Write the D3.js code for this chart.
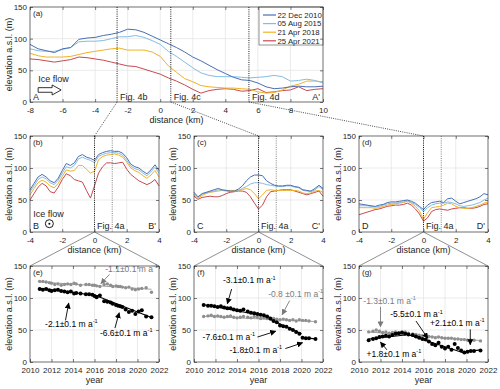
<!DOCTYPE html>
<html>
<head>
<meta charset="utf-8">
<script src="https://cdn.jsdelivr.net/npm/d3@7"></script>
<style>
  body { margin: 0; background: #ffffff; }
  svg text { font-family: "Liberation Sans", Arial, Helvetica, sans-serif; }
</style>
</head>
<body>
<div id="figure"></div>
<script>
/******************************************************
 ******************************************************
 ******************************************************
******************************************************/
const PROFILE_DATES = ["22 Dec 2010", "05 Aug 2015", "21 Apr 2018", "25 Apr 2021"];

//! Along-flow profile A-A' (km, m)
const DIST_A = [-8, -7.5, -7, -6.5, -6, -5.5, -5, -4.5, -4, -3.5, -3, -2.5, -2, -1.5, -1, -0.5, 0,
    0.5, 1, 1.5, 2, 2.5, 3, 3.5, 4, 4.5, 5, 5.5, 6, 6.5, 7, 7.5, 8, 8.5, 9, 9.5, 10];
const A_2010 = [91, 84, 81, 78, 84, 86, 99, 101, 102, 105, 107, 110, 115, 114, 110, 104, 98,
    92, 86, 79, 71, 65, 58, 51, 45, 39, 35, 34, 30, 24, 21, 22, 24, 25, 24, 24, 25];
const A_2015 = [84, 81, 80, 80, 83, 86, 95, 96, 96, 97, 100, 103, 103, 105, 102, 97, 91,
    80, 72, 63, 54, 46, 42, 40, 40, 40, 39, 38, 39, 40, 42, 40, 33, 34, 36, 34, 30];
const A_2018 = [77, 73, 71, 71, 71, 72, 75, 78, 80, 82, 84, 85, 82, 82, 82, 79, 72,
    57, 47, 37, 32, 26, 24, 23, 22, 22, 21, 20, 16, 14, 15, 19, 25, 28, 33, 33, 32];
const A_2021 = [68, 67, 65, 63, 65, 67, 71, 70, 68, 66, 63, 60, 57, 56, 52, 48, 44,
    38, 33, 27, 20, 14, 18, 20, 21, 20, 17, 18, 21, 15, 16, 18, 19, 24, 18, 20, 21];

//! Across-flow profiles B-B', C-C', D-D' (km, m)
const DIST_X = [-4, -3.75, -3.5, -3.25, -3, -2.75, -2.5, -2.25, -2, -1.75, -1.5, -1.25, -1, -0.75, -0.5, -0.25, 0,
    0.25, 0.5, 0.75, 1, 1.25, 1.5, 1.75, 2, 2.25, 2.5, 2.75, 3, 3.25, 3.5, 3.75, 4];
const B_2010 = [66, 76, 86, 90, 86, 80, 77, 84, 96, 107, 104, 108, 118, 121, 117, 115, 112,
    121, 124, 126, 127, 126, 126, 123, 116, 106, 102, 100, 95, 91, 97, 105, 96];
const B_2015 = [63, 72, 82, 86, 83, 77, 74, 81, 92, 102, 100, 104, 114, 117, 114, 112, 108,
    118, 121, 123, 124, 124, 123, 120, 112, 103, 99, 97, 92, 88, 94, 101, 92];
const B_2018 = [58, 68, 77, 81, 78, 72, 69, 76, 87, 97, 95, 96, 104, 104, 98, 92, 95,
    113, 118, 120, 121, 122, 120, 117, 109, 100, 96, 93, 88, 84, 89, 96, 86];
const B_2021 = [50, 60, 70, 76, 72, 63, 61, 70, 82, 91, 88, 82, 80, 78, 65, 53, 72,
    92, 102, 108, 108, 107, 108, 109, 98, 90, 85, 80, 77, 74, 77, 82, 72];

const C_2010 = [62, 55, 60, 62, 64, 66, 68, 66, 65, 64, 64, 67, 72, 80, 86, 89, 89,
    88, 80, 76, 73, 72, 72, 73, 73, 71, 70, 66, 65, 64, 68, 73, 68];
const C_2015 = [60, 54, 59, 61, 63, 64, 66, 65, 64, 63, 63, 65, 68, 71, 75, 77, 77,
    76, 74, 73, 72, 71, 71, 72, 72, 70, 69, 65, 64, 63, 66, 71, 66];
const C_2018 = [58, 53, 57, 60, 62, 63, 64, 65, 65, 65, 65, 65, 66, 68, 66, 60, 52,
    58, 65, 66, 65, 65, 65, 65, 65, 65, 64, 61, 60, 61, 64, 65, 62];
const C_2021 = [56, 51, 54, 55, 56, 55, 55, 57, 60, 62, 63, 64, 64, 62, 55, 45, 36,
    42, 55, 63, 64, 65, 66, 66, 66, 64, 62, 60, 58, 60, 62, 64, 56];

const D_2010 = [44, 43, 42, 41, 40, 42, 43, 46, 47, 47, 48, 49, 50, 48, 45, 40, 35,
    42, 46, 47, 48, 46, 52, 53, 48, 44, 46, 48, 50, 52, 55, 60, 58];
const D_2015 = [41, 41, 41, 40, 39, 40, 42, 44, 45, 45, 46, 47, 49, 46, 43, 38, 32,
    38, 42, 44, 45, 45, 47, 46, 44, 41, 40, 41, 42, 44, 46, 50, 53];
const D_2018 = [38, 38, 38, 38, 37, 38, 40, 42, 43, 44, 45, 46, 48, 45, 40, 33, 20,
    30, 38, 39, 40, 42, 45, 44, 40, 38, 37, 37, 38, 40, 42, 45, 47];
const D_2021 = [27, 29, 31, 33, 35, 36, 38, 40, 41, 42, 42, 43, 45, 42, 36, 28, 17,
    22, 32, 35, 36, 35, 34, 36, 37, 38, 38, 37, 37, 38, 40, 43, 44];

//! Elevation time series (decimal year, m)
const YEARS_E = [2010.9, 2011.2, 2011.5, 2011.8, 2012.0, 2012.3, 2012.6, 2012.9, 2013.2, 2013.5, 2013.8, 2014.1,
    2014.3, 2014.7, 2015.2, 2015.5, 2015.8, 2016.0, 2016.2, 2016.5, 2016.9, 2017.2, 2017.5, 2017.7,
    2018.0, 2018.2, 2018.4, 2018.6, 2018.9, 2019.2, 2019.5, 2019.8, 2020.1, 2020.4, 2020.8, 2021.3];
const E_BLACK = [114, 113, 114, 112, 111, 112, 113, 111, 110, 109, 110, 107, 108, 107, 106, 106, 105, 103,
    101, 104, 95, 94, 93, 91, 89, 88, 87, 86, 82, 78, 80, 75, 79, 81, 71, 70];
const E_GRAY = [126, 126, 125, 124, 123, 121, 122, 120, 121, 122, 121, 123, 122, 120, 121, 121, 120, 120,
    119, 118, 121, 122, 120, 118, 119, 118, 118, 117, 116, 117, 114, 113, 114, 115, 116, 109];

const YEARS_FG = [2010.9, 2011.3, 2011.6, 2011.9, 2012.2, 2012.5, 2012.8, 2013.1, 2013.4, 2013.7, 2014.0, 2014.3,
    2014.6, 2015.0, 2015.3, 2015.6, 2015.9, 2016.2, 2016.5, 2016.8, 2017.1, 2017.4, 2017.7, 2018.0,
    2018.3, 2018.6, 2018.9, 2019.2, 2019.5, 2019.8, 2020.1, 2020.4, 2020.7, 2021.3];
const F_BLACK = [89, 88, 88, 87, 86, 87, 85, 84, 84, 82, 81, 80, 82, 79, 77, 76, 75, 74, 73, 71, 68, 64,
    62, 57, 56, 55, 52, 50, 47, 44, 38, 37, 37, 36];
const F_GRAY = [71, 72, 73, 71, 72, 71, 70, 71, 72, 70, 69, 70, 71, 70, 69, 71, 70, 68, 69, 68, 67, 68,
    67, 66, 67, 66, 65, 66, 64, 66, 65, 65, 64, 63];
const G_BLACK = [34, 36, 37, 39, 40, 41, 40, 42, 44, 45, 46, 44, 43, 42, 40, 38, 36, 35, 32, 28, 26, 30,
    24, 21, 24, 19, 28, 22, 18, 15, 16, 17, 17, 18];
const G_GRAY = [47, 48, 50, 48, 46, 47, 45, 46, 47, 45, 46, 47, 45, 44, 43, 42, 41, 41, 40, 39, 38, 39,
    38, 37, 37, 37, 36, 36, 35, 35, 34, 34, 34, 33];

//! Fitted trends [year0, elev0, year1, elev1]
const E_TREND_BLACK = [[2010.9, 115, 2016.4, 103.5], [2016.4, 102, 2021.3, 69.7]];
const E_TREND_GRAY = [[2010.9, 125, 2021.3, 113.6]];
const F_TREND_BLACK = [[2010.9, 89.5, 2017.0, 70.6], [2017.0, 67, 2020.0, 44.2], [2020.0, 38.5, 2021.3, 36.2]];
const F_TREND_GRAY = [[2010.9, 71.5, 2021.3, 63.2]];
const G_TREND_BLACK = [[2010.9, 36, 2014.3, 42.1], [2014.3, 44, 2019.7, 14.3], [2019.7, 15.5, 2021.3, 18.9]];
const G_TREND_GRAY = [[2010.9, 47, 2021.3, 33.5]];

//! Tick values
const TICKS_DIST_A = [-8, -6, -4, -2, 0, 2, 4, 6, 8, 10];
const TICKS_DIST_X = [-4, -2, 0, 2, 4];
const TICKS_YEAR = [2010, 2012, 2014, 2016, 2018, 2020, 2022];
const TICKS_ELEV = [0, 50, 100, 150];

/******************************************************
 *!               Layout / styles                     *
******************************************************/
const PROFILE_COLORS = ["#4a6fb5", "#82bde3", "#f0b323", "#c8494f"];
const FRAME_COLOR = "#262626";
const GRID_COLOR = "#e3e3e3";
const TEXT_COLOR = "#262626";
const GRAY_POINT = "#8f8f8f";
const GRAY_TEXT = "#7a7a7a";
const TICK_FS = 8;
const LABEL_FS = 9;
const NOTE_FS = 8.5;

const COLUMNS = [{ left: 30, right: 159 }, { left: 194, right: 323 }, { left: 359, right: 488 }];
const ROW_PROFILE = { top: 136, bottom: 232 };
const ROW_SERIES = { top: 266, bottom: 362 };
const BOX_A = { left: 30, right: 323, top: 7, bottom: 102 };

// where the cross sections cut profile A-A'
const CUTS_A = [{ km: -2.65, label: "Fig. 4b" }, { km: 0.65, label: "Fig. 4c" }, { km: 5.45, label: "Fig. 4d" }];
const CUT_4A = 1.1;

/******************************************************
 *!                Helper Functions                   *
******************************************************/
function makePanel(svg, box, xDomain, xTicks) {
    const x = d3.scaleLinear().domain(xDomain).range([box.left, box.right]);
    const y = d3.scaleLinear().domain([0, 150]).range([box.bottom, box.top]);
    const g = svg.append("g");

    g.append("rect")
        .attr("x", box.left).attr("y", box.top)
        .attr("width", box.right - box.left).attr("height", box.bottom - box.top)
        .attr("fill", "#fff");

    // grid
    g.selectAll(".vgrid").data(xTicks).enter().append("line")
        .attr("x1", d => x(d)).attr("x2", d => x(d))
        .attr("y1", box.top).attr("y2", box.bottom)
        .attr("stroke", GRID_COLOR).attr("stroke-width", 0.7);
    g.selectAll(".hgrid").data(TICKS_ELEV).enter().append("line")
        .attr("x1", box.left).attr("x2", box.right)
        .attr("y1", d => y(d)).attr("y2", d => y(d))
        .attr("stroke", GRID_COLOR).attr("stroke-width", 0.7);

    return { x, y, g, box };
}

function styleAxis(sel) {
    sel.select(".domain").remove();
    sel.selectAll("line").attr("stroke", FRAME_COLOR).attr("stroke-width", 0.6);
    sel.selectAll("text").attr("font-size", TICK_FS).attr("fill", TEXT_COLOR)
        .style("font-family", '"Liberation Sans", Arial, sans-serif');
}

function finishPanel(p, xTicks, xLabel, tag) {
    const { x, y, g, box } = p;
    const fmt = d => String(d);

    styleAxis(g.append("g").attr("transform", `translate(0,${box.bottom})`)
        .call(d3.axisBottom(x).tickValues(xTicks).tickSize(-3).tickPadding(5).tickFormat(fmt)));
    styleAxis(g.append("g").attr("transform", `translate(0,${box.top})`)
        .call(d3.axisTop(x).tickValues(xTicks).tickSize(-3).tickFormat("")));
    styleAxis(g.append("g").attr("transform", `translate(${box.left},0)`)
        .call(d3.axisLeft(y).tickValues(TICKS_ELEV).tickSize(-3).tickPadding(3).tickFormat(fmt)));
    styleAxis(g.append("g").attr("transform", `translate(${box.right},0)`)
        .call(d3.axisRight(y).tickValues(TICKS_ELEV).tickSize(-3).tickFormat("")));

    g.append("rect")
        .attr("x", box.left).attr("y", box.top)
        .attr("width", box.right - box.left).attr("height", box.bottom - box.top)
        .attr("fill", "none").attr("stroke", FRAME_COLOR).attr("stroke-width", 0.6);

    g.append("text")
        .attr("x", (box.left + box.right) / 2).attr("y", box.bottom + 21)
        .attr("text-anchor", "middle").attr("font-size", LABEL_FS).attr("fill", TEXT_COLOR)
        .text(xLabel);

    g.append("text")
        .attr("transform", `translate(${box.left - 18},${(box.top + box.bottom) / 2}) rotate(-90)`)
        .attr("text-anchor", "middle").attr("font-size", LABEL_FS).attr("fill", TEXT_COLOR)
        .text("elevation a.s.l. (m)");

    g.append("text")
        .attr("x", box.left + 3).attr("y", box.top + 9)
        .attr("font-size", 8).attr("fill", TEXT_COLOR)
        .text(tag);
}

function drawProfiles(p, dist, series) {
    const line = d3.line().x((d, i) => p.x(dist[i])).y(d => p.y(d));
    series.slice().reverse().forEach((s, j) => {
        const k = series.length - 1 - j;
        p.g.append("path").datum(s)
            .attr("d", line)
            .attr("fill", "none")
            .attr("stroke", PROFILE_COLORS[k])
            .attr("stroke-width", 1);
    });
}

function vDotted(p, xv, color) {
    p.g.append("line")
        .attr("x1", p.x(xv)).attr("x2", p.x(xv))
        .attr("y1", p.box.top).attr("y2", p.box.bottom)
        .attr("stroke", color).attr("stroke-width", 0.9)
        .attr("stroke-dasharray", "1,1.2");
}

function cornerText(p, left, right, yPix) {
    p.g.append("text").attr("x", p.box.left + 3).attr("y", yPix)
        .attr("font-size", LABEL_FS).attr("fill", TEXT_COLOR).text(left);
    p.g.append("text").attr("x", p.box.right - 3).attr("y", yPix)
        .attr("text-anchor", "end").attr("font-size", LABEL_FS).attr("fill", TEXT_COLOR).text(right);
}

function rateText(sel, value) {
    sel.append("tspan").text(value + " m a");
    sel.append("tspan").attr("dy", -3.5).attr("font-size", 5.5).text("-1");
}

function drawSeries(p, years, values, color, radius) {
    p.g.selectAll(null).data(values).enter().append("circle")
        .attr("cx", (d, i) => p.x(years[i]))
        .attr("cy", d => p.y(d))
        .attr("r", radius)
        .attr("fill", color);
}

function drawTrends(p, trends, color) {
    p.g.selectAll(null).data(trends).enter().append("line")
        .attr("x1", d => p.x(d[0])).attr("y1", d => p.y(d[1]))
        .attr("x2", d => p.x(d[2])).attr("y2", d => p.y(d[3]))
        .attr("stroke", color).attr("stroke-width", 1.1);
}

function drawNotes(p, notes) {
    notes.forEach(n => {
        const color = n.gray ? GRAY_TEXT : "#000";
        p.g.append("line")
            .attr("x1", p.x(n.from[0])).attr("y1", p.y(n.from[1]))
            .attr("x2", p.x(n.to[0])).attr("y2", p.y(n.to[1]))
            .attr("stroke", color).attr("stroke-width", 0.9)
            .attr("marker-end", n.gray ? "url(#headGray)" : "url(#headBlack)");
        const t = p.g.append("text")
            .attr("x", p.x(n.at[0])).attr("y", p.y(n.at[1]))
            .attr("font-size", NOTE_FS).attr("fill", color);
        rateText(t, n.rate);
    });
}

/******************************************************
 *!                     Draw                          *
******************************************************/
function draw() {
    const svg = d3.select("#figure").append("svg")
        .attr("width", 500).attr("height", 389);

    const defs = svg.append("defs");
    [["headBlack", "#000"], ["headGray", GRAY_TEXT]].forEach(([id, c]) => {
        defs.append("marker").attr("id", id)
            .attr("viewBox", "0 0 10 10").attr("refX", 9).attr("refY", 5)
            .attr("markerWidth", 6).attr("markerHeight", 6)
            .attr("markerUnits", "userSpaceOnUse").attr("orient", "auto")
            .append("path").attr("d", "M0,0 L10,5 L0,10 z").attr("fill", c);
    });

    //! Panel (a)
    const pa = makePanel(svg, BOX_A, [-8, 10], TICKS_DIST_A);
    drawProfiles(pa, DIST_A, [A_2010, A_2015, A_2018, A_2021]);
    CUTS_A.forEach(c => {
        vDotted(pa, c.km, "#000");
        pa.g.append("text").attr("x", pa.x(c.km) + 3).attr("y", BOX_A.bottom - 2.5)
            .attr("font-size", LABEL_FS).attr("fill", TEXT_COLOR).text(c.label);
    });
    cornerText(pa, "A", "A'", BOX_A.bottom - 2.5);

    // ice flow arrow (hollow)
    const ax0 = pa.x(-7.5), ay0 = pa.y(19);
    pa.g.append("path")
        .attr("d", `M${ax0},${ay0 - 2.3} h14 v-2.7 l9,5 l-9,5 v-2.7 h-14 z`)
        .attr("fill", "#fff").attr("stroke", "#000").attr("stroke-width", 0.8);
    pa.g.append("text").attr("x", pa.x(-7.5)).attr("y", pa.y(31))
        .attr("font-size", LABEL_FS).attr("fill", TEXT_COLOR).text("Ice flow");

    // legend
    const lg = pa.g.append("g");
    const lgX = 259, lgY = 7;
    lg.append("rect").attr("x", lgX).attr("y", lgY).attr("width", BOX_A.right - lgX).attr("height", 38)
        .attr("fill", "#fff").attr("stroke", FRAME_COLOR).attr("stroke-width", 0.5);
    PROFILE_DATES.forEach((d, i) => {
        const yy = lgY + 8 + i * 8.6;
        lg.append("line").attr("x1", lgX + 4).attr("x2", lgX + 17).attr("y1", yy).attr("y2", yy)
            .attr("stroke", PROFILE_COLORS[i]).attr("stroke-width", 1.2);
        lg.append("text").attr("x", lgX + 18.5).attr("y", yy + 2.8)
            .attr("font-size", 7.8).attr("fill", TEXT_COLOR).text(d);
    });
    finishPanel(pa, TICKS_DIST_A, "distance (km)", "(a)");

    //! Panels (b)-(d)
    const crossData = [
        { tag: "(b)", ends: ["B", "B'"], series: [B_2010, B_2015, B_2018, B_2021] },
        { tag: "(c)", ends: ["C", "C'"], series: [C_2010, C_2015, C_2018, C_2021] },
        { tag: "(d)", ends: ["D", "D'"], series: [D_2010, D_2015, D_2018, D_2021] }
    ];
    const crossPanels = crossData.map((cd, i) => {
        const box = Object.assign({}, COLUMNS[i], ROW_PROFILE);
        const p = makePanel(svg, box, [-4, 4], TICKS_DIST_X);
        drawProfiles(p, DIST_X, cd.series);
        vDotted(p, 0, "#000");
        vDotted(p, CUT_4A, "#777");
        p.g.append("text").attr("x", p.x(0) + 2.5).attr("y", box.bottom - 3)
            .attr("font-size", LABEL_FS).attr("fill", TEXT_COLOR).text("Fig. 4a");
        cornerText(p, cd.ends[0], cd.ends[1], box.bottom - 3);
        finishPanel(p, TICKS_DIST_X, "distance (km)", cd.tag);
        return p;
    });

    // ice flow into the page
    const pb = crossPanels[0];
    pb.g.append("text").attr("x", pb.x(-2.85)).attr("y", pb.y(28)).attr("dy", "0.35em")
        .attr("text-anchor", "middle").attr("font-size", LABEL_FS).attr("fill", TEXT_COLOR).text("Ice flow");
    pb.g.append("circle").attr("cx", pb.x(-2.8)).attr("cy", pb.y(13))
        .attr("r", 4).attr("fill", "#fff").attr("stroke", "#000").attr("stroke-width", 0.9);
    pb.g.append("circle").attr("cx", pb.x(-2.8)).attr("cy", pb.y(13))
        .attr("r", 1).attr("fill", "#000");

    // connectors from A-A' cuts to the cross sections
    crossPanels.forEach((p, i) => {
        svg.append("line")
            .attr("x1", pa.x(CUTS_A[i].km)).attr("y1", BOX_A.bottom)
            .attr("x2", p.x(0)).attr("y2", p.box.top)
            .attr("stroke", "#222").attr("stroke-width", 0.8)
            .attr("stroke-dasharray", "1,1.2");
    });

    //! Panels (e)-(g)
    const seriesData = [
        {
            tag: "(e)", years: YEARS_E, black: E_BLACK, gray: E_GRAY,
            trendBlack: E_TREND_BLACK, trendGray: E_TREND_GRAY,
            notes: [
                { rate: "-1.1±0.1", gray: true, at: [2017.0, 141], from: [2017.4, 137], to: [2016.6, 122.5] },
                { rate: "-2.1±0.1", at: [2011.4, 55], from: [2013.3, 65], to: [2013.6, 92] },
                { rate: "-6.6±0.1", at: [2016.5, 41], from: [2017.9, 53], to: [2018.3, 77] }
            ]
        },
        {
            tag: "(f)", years: YEARS_FG, black: F_BLACK, gray: F_GRAY,
            trendBlack: F_TREND_BLACK, trendGray: F_TREND_GRAY,
            notes: [
                { rate: "-3.1±0.1", at: [2012.7, 123], from: [2013.5, 114], to: [2013.1, 91] },
                { rate: "-0.8 ±0.1", gray: true, at: [2016.9, 102], from: [2018.9, 96], to: [2018.2, 74] },
                { rate: "-7.6±0.1", at: [2010.8, 34.5], from: [2015.9, 39], to: [2017.6, 48] },
                { rate: "-1.8±0.1", at: [2013.3, 14.5], from: [2018.5, 21], to: [2020.1, 30] }
            ]
        },
        {
            tag: "(g)", years: YEARS_FG, black: G_BLACK, gray: G_GRAY,
            trendBlack: G_TREND_BLACK, trendGray: G_TREND_GRAY,
            notes: [
                { rate: "-1.3±0.1", gray: true, at: [2010.4, 91], from: [2012.0, 86], to: [2012.0, 55] },
                { rate: "-5.5±0.1", at: [2012.9, 70], from: [2015.3, 64], to: [2016.4, 37] },
                { rate: "+2.1±0.1", at: [2016.6, 56.5], from: [2020.35, 51], to: [2020.35, 27] },
                { rate: "+1.8±0.1", at: [2010.7, 8.5], from: [2012.6, 19], to: [2012.0, 31] }
            ]
        }
    ];

    seriesData.forEach((sd, i) => {
        const box = Object.assign({}, COLUMNS[i], ROW_SERIES);
        const p = makePanel(svg, box, [2010, 2022], TICKS_YEAR);
        drawTrends(p, sd.trendGray, "#a6a6a6");
        drawSeries(p, sd.years, sd.gray, GRAY_POINT, 1.7);
        drawTrends(p, sd.trendBlack, "#000");
        drawSeries(p, sd.years, sd.black, "#000", 2);
        drawNotes(p, sd.notes);
        finishPanel(p, TICKS_YEAR, "year", sd.tag);

        // zoom wedge from the cross section above
        const above = crossPanels[i];
        [box.left, box.right].forEach(xx => {
            svg.append("line")
                .attr("x1", above.x(0)).attr("y1", above.box.bottom)
                .attr("x2", xx).attr("y2", box.top)
                .attr("stroke", "#444").attr("stroke-width", 0.6);
        });
    });
}

/******************************************************
 *!               Initial Draw Call
*******************************************************/
draw();
</script>
</body>
</html>
